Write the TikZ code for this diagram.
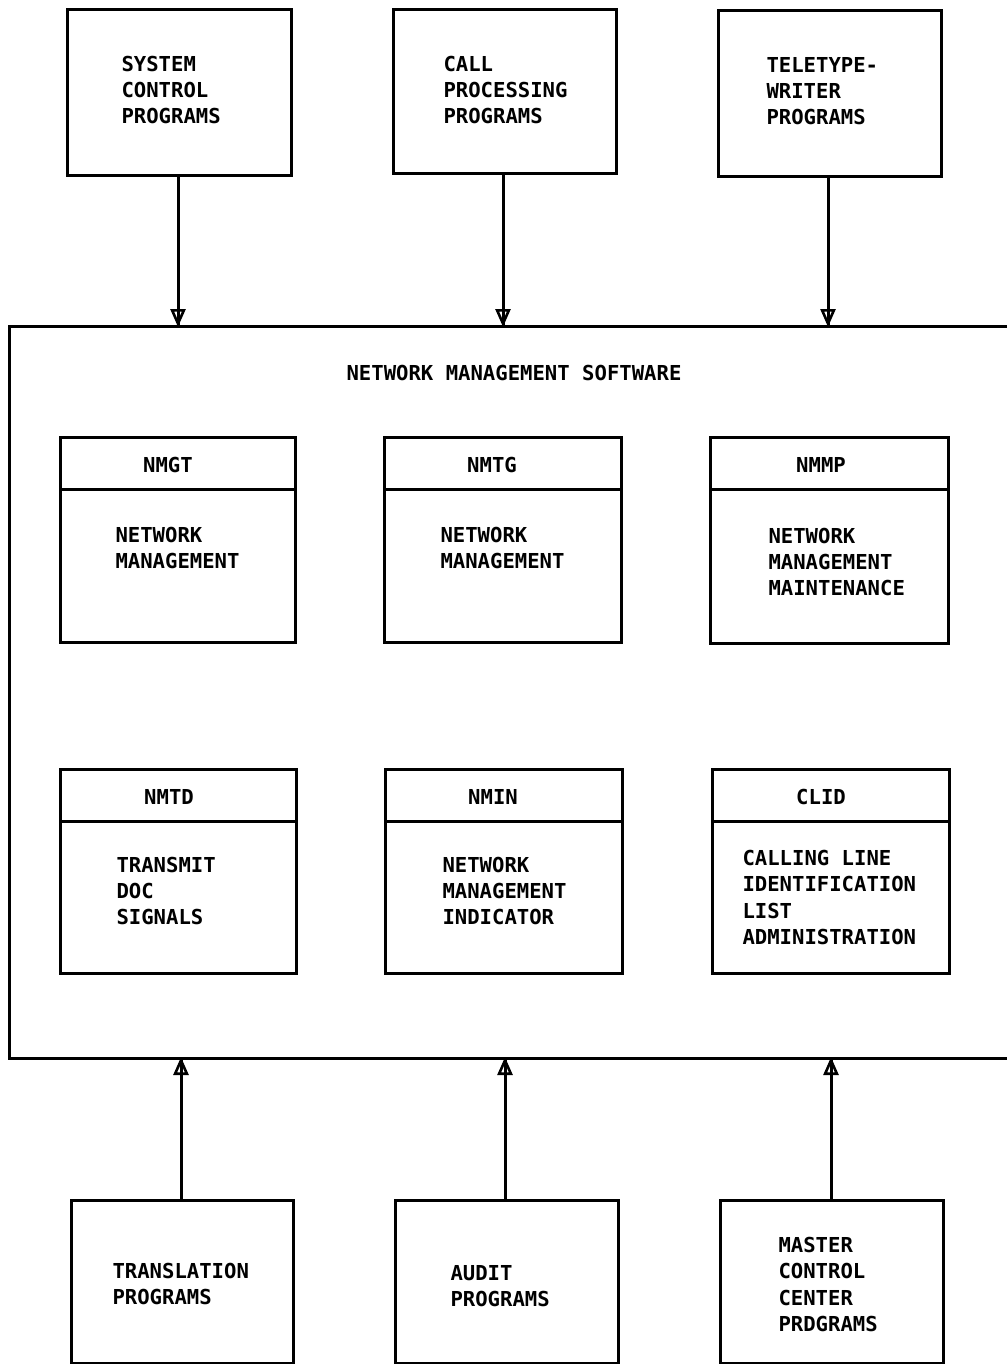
\documentclass[tikz,border=0pt]{standalone}
\usepackage{fontspec}
\setmonofont{DejaVu Sans Mono}
\usetikzlibrary{arrows.meta}
\begin{document}
\begin{tikzpicture}[x=1pt,y=-1pt,
  line width=3pt,
  every node/.style={font=\fontsize{20.6}{26.3}\selectfont\ttfamily\bfseries, inner sep=0pt},
  prog/.style={draw, line width=3pt, minimum width=#1, minimum height=165pt, anchor=north west},
  txt/.style={align=left, anchor=west},
  hdr/.style={anchor=center},
  feed/.style={-{Triangle[open, width=15pt, length=18pt, line width=2.6pt]}, shorten >=-1pt}
]
\useasboundingbox (0,0) rectangle (1007,1364);

% calling program blocks (top)
\node[prog=224pt, minimum height=166pt] (sys) at (66,8) {};
\node[prog=223pt, minimum height=164pt] (cal) at (392,8) {};
\node[prog=223pt, minimum height=166pt] (tty) at (717,9) {};
\node[txt] (tsys) at (120,90) {SYSTEM\\CONTROL\\PROGRAMS};
\node[txt] (tcal) at (442,90) {CALL\\PROCESSING\\PROGRAMS};
\node[txt] (ttty) at (765,91) {TELETYPE-\\WRITER\\PROGRAMS};

% network management software frame (open on the right)
\coordinate (nmtr) at (1007,326);
\coordinate (nmtl) at (9,326);
\coordinate (nmbl) at (9,1058);
\coordinate (nmbr) at (1007,1058);
\draw (nmtr) -- (nmtl) -- (nmbl) -- (nmbr);
\node (title) at (514,373) {NETWORK MANAGEMENT SOFTWARE};

% inputs from above
\coordinate (in1) at (178,326);
\coordinate (in2) at (503,326);
\coordinate (in3) at (828,326);
\foreach \s/\t in {sys/in1, cal/in2, tty/in3} {
  \draw[feed] (\s.south -| \t) -- (\t);
  \draw (\s.south -| \t) -- (\t);
}

% module blocks
\newcommand{\modbox}[7]{%
  % #1 name, #2 left, #3 top, #4 right, #5 bottom, #6 header x, #7 header text
  \draw (#2,#3) rectangle (#4,#5);
  \draw (#2,#3+52) -- (#4,#3+52);
  \node[hdr] (#1) at (#6,#3+28) {#7};
}
\modbox{nmgt}{60}{437}{295}{642}{168}{NMGT}
\modbox{nmtg}{384}{437}{621}{642}{492}{NMTG}
\modbox{nmmp}{710}{437}{948}{643}{821}{NMMP}
\modbox{nmtd}{60}{769}{296}{973}{169}{NMTD}
\modbox{nmin}{385}{769}{622}{973}{493}{NMIN}
\modbox{clid}{712}{769}{949}{973}{821}{CLID}

\node[txt] (bnmgt) at (114,548) {NETWORK\\MANAGEMENT};
\node[txt] (bnmtg) at (439,548) {NETWORK\\MANAGEMENT};
\node[txt] (bnmmp) at (767,562) {NETWORK\\MANAGEMENT\\MAINTENANCE};
\node[txt] (bnmtd) at (115,891) {TRANSMIT\\DOC\\SIGNALS};
\node[txt] (bnmin) at (441,891) {NETWORK\\MANAGEMENT\\INDICATOR};
\node[txt] (bclid) at (741,897.5) {CALLING LINE\\IDENTIFICATION\\LIST\\ADMINISTRATION};

% supporting program blocks (bottom)
\node[prog=222pt, minimum height=163pt] (trn) at (70,1199) {};
\node[prog=223pt, minimum height=163pt] (aud) at (394,1199) {};
\node[prog=223pt, minimum height=163pt] (mcc) at (719,1199) {};
\node[txt] (ttrn) at (111,1284) {TRANSLATION\\PROGRAMS};
\node[txt] (taud) at (449,1286) {AUDIT\\PROGRAMS};
\node[txt] (tmcc) at (777,1284.5) {MASTER\\CONTROL\\CENTER\\PRDGRAMS};

\coordinate (out1) at (181,1058);
\coordinate (out2) at (505,1058);
\coordinate (out3) at (831,1058);
\foreach \s/\t in {trn/out1, aud/out2, mcc/out3} {
  \draw[feed] (\s.north -| \t) -- (\t);
  \draw (\s.north -| \t) -- (\t);
}
\end{tikzpicture}
\end{document}
